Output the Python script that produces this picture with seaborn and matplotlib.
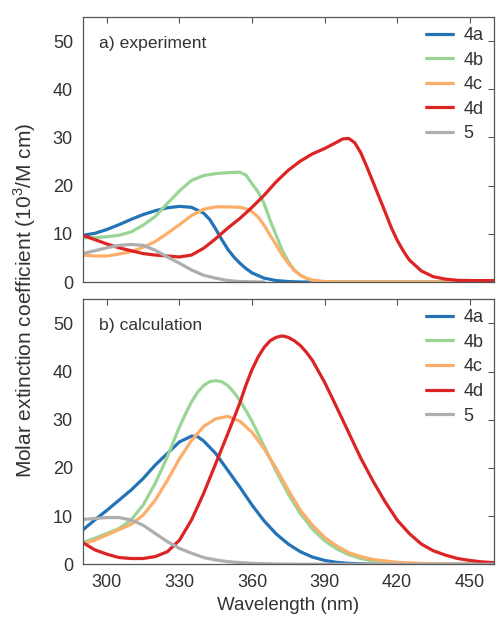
import numpy as np
import pandas as pd
import matplotlib
matplotlib.use("Agg")
import matplotlib.pyplot as plt
import seaborn as sns

# ---------- a) experiment ----------
exp_4a_x = [290, 295, 300, 305, 310, 315, 320, 325, 330, 335, 340, 342.5, 345, 347.5, 350, 352.5, 355, 357.5,
            360, 365, 370, 375, 380, 460]
exp_4a_y = [9.7, 10.1, 10.9, 11.9, 13.0, 14.0, 14.8, 15.4, 15.7, 15.5, 14.3, 13.0, 11.0, 8.8, 6.8, 5.2, 3.9, 2.8,
            1.9, 0.8, 0.3, 0.1, 0.0, 0.0]
exp_4b_x = [290, 295, 300, 305, 310, 315, 320, 325, 330, 335, 340, 345, 350, 355, 357.5, 360, 362.5, 365, 367.5,
            370, 372.5, 375, 377.5, 380, 382.5, 385, 390, 460]
exp_4b_y = [9.2, 9.2, 9.4, 9.7, 10.4, 11.8, 13.6, 16.3, 18.9, 21.1, 22.1, 22.5, 22.7, 22.8, 22.2, 20.4, 18.7, 16.3,
            12.8, 9.7, 6.6, 4.2, 2.5, 1.4, 0.8, 0.3, 0.0, 0.0]
exp_4c_x = [290, 295, 300, 305, 310, 315, 320, 325, 330, 335, 340, 345, 350, 355, 357.5, 360, 362.5, 365, 367.5,
            370, 372.5, 375, 377.5, 380, 382.5, 385, 390, 395, 460]
exp_4c_y = [5.6, 5.4, 5.4, 5.8, 6.3, 7.2, 8.4, 10.1, 11.9, 13.8, 15.1, 15.6, 15.6, 15.5, 15.2, 14.6, 13.5, 11.8,
            9.7, 7.7, 5.6, 3.9, 2.4, 1.4, 0.8, 0.4, 0.1, 0.0, 0.0]
exp_4d_x = [290, 295, 300, 305, 310, 315, 320, 325, 330, 335, 340, 345, 350, 355, 360, 365, 370, 375, 380, 385,
            390, 395, 397.5, 400, 402.5, 405, 407.5, 410, 412.5, 415, 417.5, 420, 422.5, 425, 430, 435, 440, 445,
            450, 460]
exp_4d_y = [9.7, 8.8, 7.9, 7.1, 6.5, 5.9, 5.6, 5.4, 5.2, 5.6, 7.0, 9.0, 11.2, 13.2, 15.5, 18.0, 20.8, 23.2, 25.1,
            26.6, 27.7, 29.0, 29.7, 29.8, 28.9, 26.8, 23.9, 20.8, 17.7, 14.6, 11.4, 8.7, 6.5, 4.6, 2.3, 1.1, 0.6,
            0.35, 0.3, 0.3]
exp_5_x = [290, 295, 300, 305, 310, 315, 320, 325, 330, 335, 340, 345, 350, 355, 360, 365]
exp_5_y = [5.9, 6.5, 7.1, 7.6, 7.8, 7.6, 6.6, 5.2, 3.9, 2.5, 1.4, 0.8, 0.3, 0.1, 0.05, 0.0]

# ---------- b) calculation ----------
calc_4a_x = [290, 295, 300, 305, 310, 315, 320, 325, 330, 335, 337.5, 340, 345, 350, 355, 360, 365, 370, 375,
             380, 385, 390, 395, 400, 405, 410, 415, 460]
calc_4a_y = [7.1, 9.2, 11.2, 13.3, 15.4, 17.8, 20.6, 23.0, 25.4, 26.6, 26.5, 25.6, 23.0, 19.5, 16.0, 12.3, 9.0,
             6.3, 4.2, 2.6, 1.5, 0.8, 0.4, 0.2, 0.08, 0.03, 0.0, 0.0]
calc_4b_x = [290, 295, 300, 305, 310, 315, 320, 325, 330, 332.5, 335, 337.5, 340, 342.5, 345, 347.5, 350, 352.5,
             355, 357.5, 360, 365, 370, 375, 380, 385, 390, 395, 400, 405, 410, 415, 420, 425, 430, 460]
calc_4b_y = [4.5, 5.4, 6.4, 7.4, 9.2, 12.3, 16.8, 22.3, 28.5, 31.2, 33.7, 35.7, 37.1, 37.9, 38.1, 37.9, 37.1, 35.7,
             34.0, 31.9, 29.7, 24.5, 19.3, 14.6, 10.5, 7.3, 4.9, 3.2, 2.0, 1.2, 0.7, 0.4, 0.2, 0.1, 0.05, 0.0]
calc_4c_x = [290, 295, 300, 305, 310, 315, 320, 325, 330, 335, 340, 345, 350, 355, 360, 365, 370, 375, 380, 385,
             390, 395, 400, 405, 410, 415, 420, 425, 430, 435, 445, 460]
calc_4c_y = [4.2, 5.0, 6.1, 7.2, 8.3, 10.2, 13.3, 17.4, 21.9, 25.7, 28.6, 30.2, 30.7, 29.7, 27.4, 24.0, 19.9, 15.4,
             11.2, 8.1, 5.6, 3.8, 2.4, 1.6, 1.0, 0.7, 0.4, 0.3, 0.2, 0.1, 0.05, 0.0]
calc_4d_x = [290, 295, 300, 305, 310, 315, 320, 325, 330, 335, 340, 345, 350, 355, 357.5, 360, 362.5, 365, 367.5,
             370, 372.5, 375, 377.5, 380, 382.5, 385, 390, 395, 400, 405, 410, 415, 420, 425, 430, 435, 440, 445,
             450, 455, 460]
calc_4d_y = [4.5, 3.0, 2.1, 1.4, 1.2, 1.2, 1.6, 2.6, 5.0, 9.2, 14.7, 20.9, 27.1, 33.5, 37.2, 40.4, 43.0, 45.0,
             46.4, 47.1, 47.4, 47.1, 46.4, 45.4, 44.0, 42.3, 37.8, 32.6, 27.3, 22.0, 17.3, 13.0, 9.2, 6.4, 4.2, 2.8,
             1.9, 1.2, 0.8, 0.5, 0.35]
calc_5_x = [290, 295, 300, 305, 310, 315, 320, 325, 330, 335, 340, 345, 350, 355, 360, 370, 380, 460]
calc_5_y = [9.3, 9.5, 9.7, 9.7, 9.2, 8.1, 6.4, 4.7, 3.3, 2.3, 1.4, 0.9, 0.55, 0.35, 0.2, 0.05, 0.0, 0.0]

series_names = ["4a", "4b", "4c", "4d", "5"]
colors = ["#2473b6", "#99d595", "#fdae6b", "#dc2424", "#aeaeae"]
panel_labels = ["a) experiment", "b) calculation"]
y_label = "Molar extinction coefficient (10$^3$/M cm)"
x_label = "Wavelength (nm)"
x_ticks = [300, 330, 360, 390, 420, 450]
y_ticks = [0, 10, 20, 30, 40, 50]

sns.set_style("white")
plt.rcParams["font.family"] = ["Liberation Sans", "DejaVu Sans"]
plt.rcParams["mathtext.fontset"] = "custom"
plt.rcParams["mathtext.rm"] = "Liberation Sans"


def make_df(pairs):
    rows = []
    for name, (xs, ys) in zip(series_names, pairs):
        for x, y in zip(xs, ys):
            rows.append({"wl": x, "eps": y, "cmp": name})
    return pd.DataFrame(rows)


df_exp = make_df([(exp_4a_x, exp_4a_y), (exp_4b_x, exp_4b_y), (exp_4c_x, exp_4c_y),
                  (exp_4d_x, exp_4d_y), (exp_5_x, exp_5_y)])
df_calc = make_df([(calc_4a_x, calc_4a_y), (calc_4b_x, calc_4b_y), (calc_4c_x, calc_4c_y),
                   (calc_4d_x, calc_4d_y), (calc_5_x, calc_5_y)])

fig = plt.figure(figsize=(4.96, 6.19), dpi=100)
ax1 = fig.add_axes([0.1667, 0.5444, 0.829, 0.4281])
ax2 = fig.add_axes([0.1667, 0.0884, 0.829, 0.4281])

palette = dict(zip(series_names, colors))
text_col = "#333333"
for ax, df, lab in [(ax1, df_exp, panel_labels[0]), (ax2, df_calc, panel_labels[1])]:
    sns.lineplot(data=df, x="wl", y="eps", hue="cmp", hue_order=series_names,
                 palette=palette, linewidth=2.3, ax=ax, legend=True, sort=True,
                 estimator=None)
    ax.set_xlim(290, 460)
    ax.set_ylim(0, 55)
    ax.set_xticks(x_ticks)
    ax.set_yticks(y_ticks)
    ax.set_xlabel("")
    ax.set_ylabel("")
    ax.tick_params(direction="in", length=4, width=0.8, top=True, right=True,
                   labelsize=13, colors="#555555", labelcolor=text_col, pad=7)
    for s in ax.spines.values():
        s.set_color("#555555")
        s.set_linewidth(0.9)
    ax.text(0.04, 0.90, lab, transform=ax.transAxes, fontsize=12.6, color=text_col,
            va="center", ha="left")
    leg = ax.legend(loc="upper right", frameon=False, fontsize=13, handlelength=1.5,
                    handletextpad=0.6, labelspacing=0.42, borderaxespad=0.15,
                    bbox_to_anchor=(1.0, 1.0))
    for t in leg.get_texts():
        t.set_color(text_col)
    for h in leg.get_lines():
        h.set_linewidth(2.3)

ax1.tick_params(labelbottom=False)
ax2.set_xlabel(x_label, fontsize=13.5, color=text_col, labelpad=4)
fig.text(0.05, 0.515, y_label, rotation=90, fontsize=15, color=text_col,
         va="center", ha="center")

fig.savefig("out.png", dpi=100)
